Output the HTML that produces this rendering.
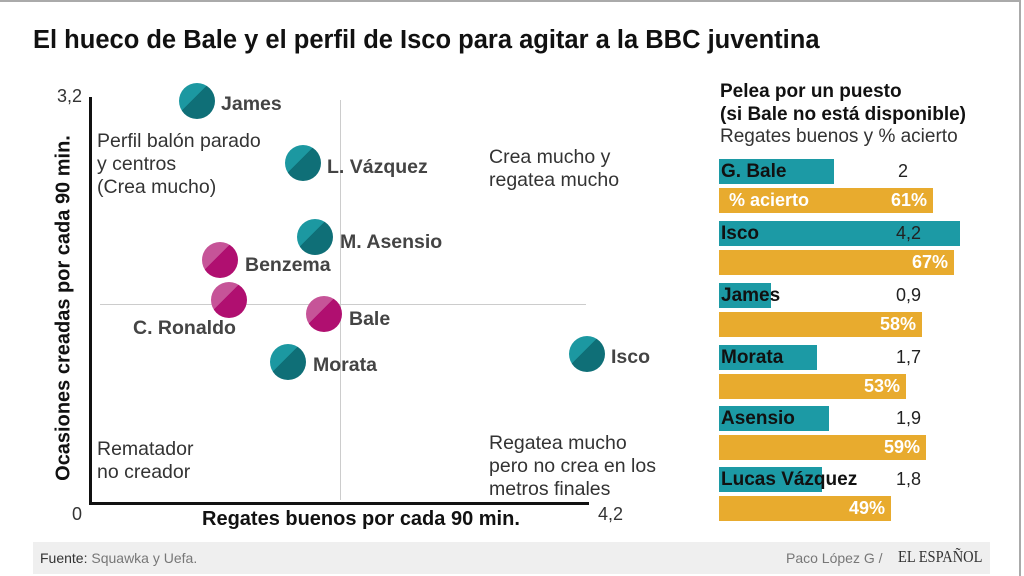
<!DOCTYPE html>
<html><head><meta charset="utf-8"><style>
body{margin:0;width:1024px;height:576px;background:#fff;position:relative;overflow:hidden;font-family:"Liberation Sans",sans-serif;color:#222}
.a{position:absolute;white-space:nowrap}
.c{position:absolute;width:36px;height:36px;border-radius:50%}
.t{background:linear-gradient(135deg,#1c98a1 42%,#0f6f77 42%)}
.m{background:linear-gradient(135deg,#c65498 42%,#b00f70 42%)}
.lb{font-size:19.5px;font-weight:bold;color:#444}
.q{font-size:19.5px;color:#333;line-height:23px}
.bt{position:absolute;left:719px;height:25px;background:#1c9aa5}
.bo{position:absolute;left:719px;height:25px;background:#e8ab2e;color:#fff;font-weight:bold;font-size:18px;line-height:25px;text-align:right;box-sizing:border-box;padding-right:6px}
.bn{position:absolute;left:721px;font-weight:bold;font-size:19px;line-height:25px;color:#111}
.bv{position:absolute;font-size:18px;line-height:25px;color:#222}
</style></head><body>
<div class="a" style="left:0;top:0;width:1020px;height:2px;background:#aaa"></div>
<div class="a" style="left:1019px;top:0;width:2px;height:576px;background:#aaa"></div>
<div class="a" style="left:33px;top:26px;font-size:25.5px;font-weight:bold;color:#111">El hueco de Bale y el perfil de Isco para agitar a la BBC juventina</div>

<div class="a" style="left:89px;top:97px;width:3px;height:407px;background:#111"></div>
<div class="a" style="left:89px;top:502px;width:500px;height:3px;background:#111"></div>
<div class="a" style="left:340px;top:100px;width:1px;height:400px;background:#ccc"></div>
<div class="a" style="left:100px;top:304px;width:486px;height:1px;background:#ccc"></div>
<div class="a" style="left:57px;top:86px;font-size:18px;color:#333">3,2</div>
<div class="a" style="left:72px;top:504px;font-size:18px;color:#333">0</div>
<div class="a" style="left:598px;top:504px;font-size:18px;color:#333">4,2</div>
<div class="a" style="left:202px;top:508px;font-size:20px;font-weight:bold;color:#111">Regates buenos por cada 90 min.</div>
<div class="a" style="left:64px;top:308px;font-size:20px;font-weight:bold;color:#111;transform:translate(-50%,-50%) rotate(-90deg)">Ocasiones creadas por cada 90 min.</div>

<div class="a q" style="left:97px;top:130px">Perfil balón parado<br>y centros<br>(Crea mucho)</div>
<div class="a q" style="left:489px;top:146px">Crea mucho y<br>regatea mucho</div>
<div class="a q" style="left:97px;top:438px">Rematador<br>no creador</div>
<div class="a q" style="left:489px;top:432px">Regatea mucho<br>pero no crea en los<br>metros finales</div>

<div class="c t" style="left:179px;top:83px"></div><div class="a lb" style="left:221px;top:93px">James</div>
<div class="c t" style="left:285px;top:145px"></div><div class="a lb" style="left:327px;top:156px">L. Vázquez</div>
<div class="c t" style="left:297px;top:219px"></div><div class="a lb" style="left:340px;top:231px">M. Asensio</div>
<div class="c m" style="left:202px;top:242px"></div><div class="a lb" style="left:245px;top:254px">Benzema</div>
<div class="c m" style="left:211px;top:282px"></div><div class="a lb" style="left:133px;top:317px">C. Ronaldo</div>
<div class="c m" style="left:306px;top:296px"></div><div class="a lb" style="left:349px;top:308px">Bale</div>
<div class="c t" style="left:270px;top:344px"></div><div class="a lb" style="left:313px;top:354px">Morata</div>
<div class="c t" style="left:569px;top:336px"></div><div class="a lb" style="left:611px;top:346px">Isco</div>

<div class="a" style="left:720px;top:80px;font-size:19px;font-weight:bold;color:#111;line-height:23px">Pelea por un puesto<br>(si Bale no está disponible)</div>
<div class="a" style="left:720px;top:126px;font-size:19px;color:#333">Regates buenos y % acierto</div>

<div class="bt" style="top:159px;width:115px"></div><div class="bn" style="top:159px">G. Bale</div><div class="bv" style="left:898px;top:159px">2</div>
<div class="bo" style="top:188px;width:214px"><span style="float:left;padding-left:10px">% acierto</span>61%</div>
<div class="bt" style="top:221px;width:241px"></div><div class="bn" style="top:221px">Isco</div><div class="bv" style="left:896px;top:221px">4,2</div>
<div class="bo" style="top:250px;width:235px">67%</div>
<div class="bt" style="top:283px;width:52px"></div><div class="bn" style="top:283px">James</div><div class="bv" style="left:896px;top:283px">0,9</div>
<div class="bo" style="top:312px;width:203px">58%</div>
<div class="bt" style="top:345px;width:98px"></div><div class="bn" style="top:345px">Morata</div><div class="bv" style="left:896px;top:345px">1,7</div>
<div class="bo" style="top:374px;width:187px">53%</div>
<div class="bt" style="top:406px;width:110px"></div><div class="bn" style="top:406px">Asensio</div><div class="bv" style="left:896px;top:406px">1,9</div>
<div class="bo" style="top:435px;width:207px">59%</div>
<div class="bt" style="top:467px;width:103px"></div><div class="bn" style="top:467px">Lucas Vázquez</div><div class="bv" style="left:896px;top:467px">1,8</div>
<div class="bo" style="top:496px;width:172px">49%</div>

<div class="a" style="left:33px;top:542px;width:957px;height:32px;background:#efefef"></div>
<div class="a" style="left:40px;top:550px;font-size:14px;color:#333">Fuente: <span style="color:#777">Squawka y Uefa.</span></div>
<div class="a" style="left:786px;top:550px;font-size:14px;color:#777">Paco López G /</div>
<div class="a" style="left:898px;top:547px;font-size:17px;color:#333;font-family:'Liberation Serif',serif;transform:scaleX(0.85);transform-origin:left">EL ESPAÑOL</div>
</body></html>
